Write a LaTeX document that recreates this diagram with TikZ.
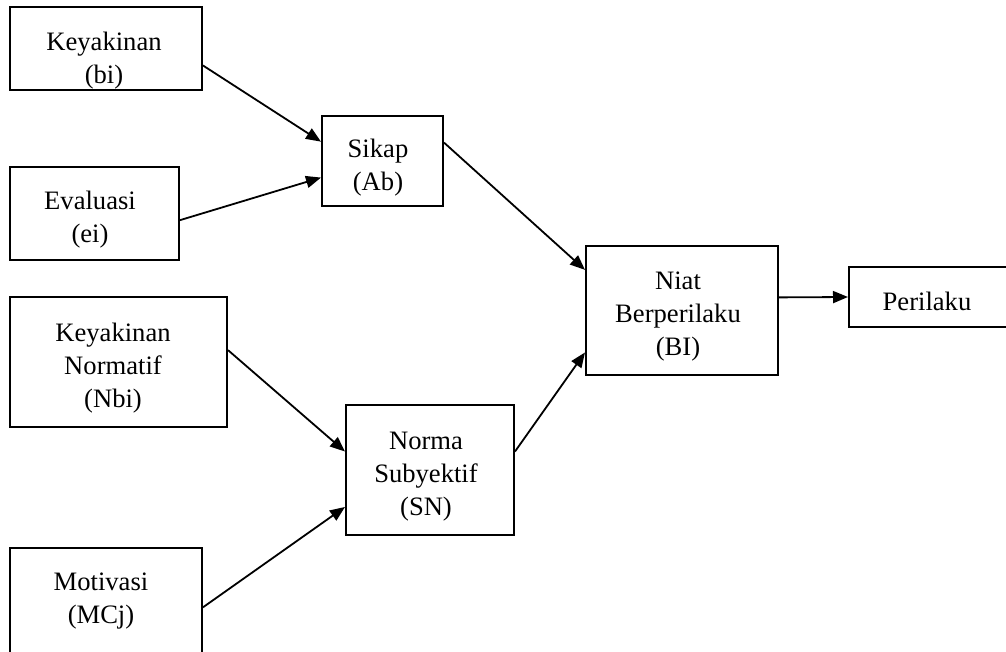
\documentclass[tikz,border=0pt]{standalone}
\usepackage{fontspec}
\setmainfont{Liberation Serif}
\usetikzlibrary{arrows.meta,calc}
\begin{document}
\begin{tikzpicture}[x=1pt,y=-1pt,
  box/.style={draw=black,line width=2pt,rectangle,inner sep=0pt},
  txt/.style={align=center,inner sep=0pt,font=\fontsize{26.6}{33}\selectfont},
  arr/.style={line width=1.8pt,-{Triangle[length=15pt,width=12pt]}}]
\clip (0,0) rectangle (1006,652);
% boxes
\node[box,minimum width=192pt,minimum height=83pt] (bi) at (106,48.5) {};
\node[box,minimum width=169pt,minimum height=93pt] (ei) at (94.5,213.5) {};
\node[box,minimum width=217pt,minimum height=130pt] (nbi) at (118.5,362) {};
\node[box,minimum width=192pt,minimum height=132pt] (mcj) at (106,614) {};
\node[box,minimum width=121pt,minimum height=90pt] (ab) at (382.5,161) {};
\node[box,minimum width=168pt,minimum height=130pt] (sn) at (430,470) {};
\node[box,minimum width=192pt,minimum height=129pt] (bi2) at (682,310.5) {};
\node[box,minimum width=175pt,minimum height=60pt] (per) at (936.5,297) {};
% texts
\node[txt] (tbi) at (104,61) {Keyakinan\\(bi)};
\node[txt] (tei) at (90,220) {Evaluasi\\(ei)};
\node[txt] (tnbi) at (113,368) {Keyakinan\\Normatif\\(Nbi)};
\node[txt] (tmcj) at (101,601) {Motivasi\\(MCj)};
\node[txt] (tab) at (378,168) {Sikap\\(Ab)};
\node[txt] (tsn) at (426,477) {Norma\\Subyektif\\(SN)};
\node[txt] (tbi2) at (678,317) {Niat\\Berperilaku\\(BI)};
\node[txt] (tper) at (927,301) {Perilaku};
% arrows
\draw[arr] ($(bi.north east)!0.70!(bi.south east)$) -- ($(ab.north west)!0.29!(ab.south west)$);
\draw[arr] ($(ei.north east)!0.57!(ei.south east)$) -- ($(ab.north west)!0.68!(ab.south west)$);
\draw[arr] ($(ab.north east)!0.30!(ab.south east)$) -- ($(bi2.north west)!0.19!(bi2.south west)$);
\draw[arr] ($(nbi.north east)!0.41!(nbi.south east)$) -- ($(sn.north west)!0.36!(sn.south west)$);
\draw[arr] ($(mcj.north east)!0.45!(mcj.south east)$) -- ($(sn.north west)!0.78!(sn.south west)$);
\draw[arr] ($(sn.north east)!0.36!(sn.south east)$) -- ($(bi2.north west)!0.82!(bi2.south west)$);
\draw[arr] ($(bi2.north east)!0.40!(bi2.south east)$) -- (per.west);
\end{tikzpicture}
\end{document}
